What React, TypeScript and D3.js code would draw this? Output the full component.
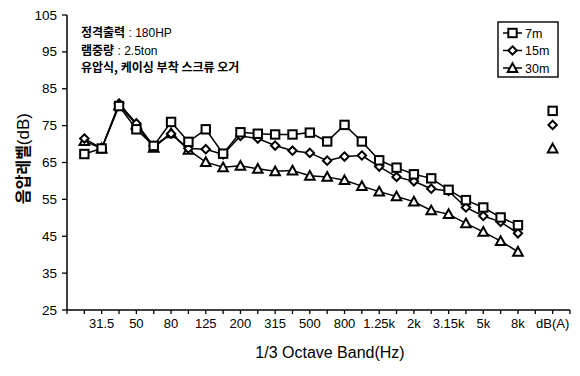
import React from "react";
import * as d3 from "d3";

// 1/3 octave band centre frequencies (25 Hz – 8 kHz), then overall dB(A)
const bands = [
  "25", "31.5", "40", "50", "63", "80", "100", "125", "160", "200", "250", "315", "400",
  "500", "630", "800", "1k", "1.25k", "1.6k", "2k", "2.5k", "3.15k", "4k", "5k", "6.3k", "8k",
];
const tickLabels = ["31.5", "50", "80", "125", "200", "315", "500", "800", "1.25k", "2k", "3.15k", "5k", "8k"];
const overallLabel = "dB(A)";
const yTicks = [25, 35, 45, 55, 65, 75, 85, 95, 105];

// Sound pressure level per band at each distance
const level7m = [67.3, 68.8, 80.3, 74.0, 69.5, 76.0, 70.6, 74.0, 67.4, 73.2, 72.8, 72.6, 72.6, 73.1, 70.7, 75.2, 70.7, 65.6, 63.6, 61.8, 60.7, 57.6, 54.8, 52.8, 50.1, 48.0];
const level15m = [71.5, 68.8, 81.0, 75.6, 69.5, 72.8, 68.8, 68.6, 67.2, 72.2, 71.5, 69.6, 68.2, 67.6, 65.5, 66.6, 66.9, 63.9, 61.1, 59.9, 57.9, 57.3, 52.8, 50.5, 48.9, 45.8];
const level30m = [70.8, 68.8, 80.5, 75.3, 69.0, 72.9, 68.4, 65.1, 63.7, 64.1, 63.3, 62.6, 62.8, 61.4, 61.1, 60.2, 58.6, 57.1, 55.8, 54.4, 52.0, 51.0, 48.5, 46.2, 43.7, 40.8];
const overall = [79.0, 75.2, 68.8]; // 7m, 15m, 30m

const seriesNames = ["7m", "15m", "30m"];
const seriesShapes = ["square", "diamond", "triangle"];

const W = 580;
const H = 376;
const FONT = "'Liberation Sans', Arial, 'Noto Sans CJK KR', sans-serif";
const KFONT = "'Noto Sans CJK KR', 'Liberation Sans', sans-serif";

const x = d3.scaleLinear().domain([0, 29]).range([67, 570]);
const y = d3.scaleLinear().domain([25, 105]).range([310, 15]);

function Marker({ shape, cx, cy }: { shape: string; cx: number; cy: number }) {
  const common = { fill: "#fff", stroke: "#000", strokeWidth: 2 };
  if (shape === "square") {
    return <rect x={cx - 4.2} y={cy - 4.2} width={8.4} height={8.4} {...common} />;
  }
  if (shape === "diamond") {
    return (
      <path
        d={`M${cx},${cy - 4.2}L${cx + 4.2},${cy}L${cx},${cy + 4.2}L${cx - 4.2},${cy}Z`}
        {...common}
      />
    );
  }
  return (
    <path
      d={`M${cx},${cy - 4.8}L${cx + 4.8},${cy + 3.9}L${cx - 4.8},${cy + 3.9}Z`}
      {...common}
    />
  );
}

export default function App() {
  const series = [level7m, level15m, level30m];
  const line = d3
    .line<number>()
    .x((_, i) => x(i + 1))
    .y((d) => y(d));

  const overallIdx = bands.length + 2;

  return (
    <svg
      width={W}
      height={H}
      style={{ position: "absolute", left: 0, top: 0, background: "#fff" }}
      fontFamily={FONT}
    >
      {/* axes */}
      <line x1={x(0)} x2={x(0)} y1={y(105)} y2={y(25)} stroke="#000" strokeWidth={1.5} />
      <line x1={x(0)} x2={x(29)} y1={y(25)} y2={y(25)} stroke="#000" strokeWidth={1.5} />
      {yTicks.map((t) => (
        <g key={t}>
          <line x1={x(0) - 5} x2={x(0)} y1={y(t)} y2={y(t)} stroke="#000" strokeWidth={1.3} />
          <text x={57} y={y(t) + 4.5} textAnchor="end" fontSize={13.5}>
            {t}
          </text>
        </g>
      ))}
      {d3.range(0, 30).map((i) => (
        <line key={i} x1={x(i)} x2={x(i)} y1={y(25)} y2={y(25) + 4} stroke="#000" strokeWidth={1.3} />
      ))}
      {tickLabels.map((lab) => (
        <text key={lab} x={x(bands.indexOf(lab) + 1)} y={328} textAnchor="middle" fontSize={13}>
          {lab}
        </text>
      ))}
      <text x={x(overallIdx)} y={328} textAnchor="middle" fontSize={13}>
        {overallLabel}
      </text>
      <text x={330} y={358} textAnchor="middle" fontSize={16}>
        1/3 Octave Band(Hz)
      </text>
      <text
        transform={`translate(29,${(y(25) + y(105)) / 2 - 4}) rotate(-90)`}
        textAnchor="middle"
        fontSize={16}
      >
        <tspan fontFamily={KFONT} fontWeight={700}>음압레벨</tspan>
        <tspan fontSize={17}>(dB)</tspan>
      </text>

      {/* machine description */}
      <g fontSize={12}>
        <text x={81} y={37}>
          <tspan fontFamily={KFONT} fontWeight={700}>정격출력</tspan>
          <tspan> : 180HP</tspan>
        </text>
        <text x={81} y={55}>
          <tspan fontFamily={KFONT} fontWeight={700}>램중량</tspan>
          <tspan> : 2.5ton</tspan>
        </text>
        <text x={81} y={72} fontFamily={KFONT} fontWeight={700}>
          유압식, 케이싱 부착 스크류 오거
        </text>
      </g>

      {/* series lines and markers, farthest first */}
      {[2, 1, 0].map((s) => (
        <g key={seriesNames[s]}>
          <path d={line(series[s]) || ""} fill="none" stroke="#000" strokeWidth={1.5} />
          {series[s].map((v, i) => (
            <Marker key={i} shape={seriesShapes[s]} cx={x(i + 1)} cy={y(v)} />
          ))}
          <Marker shape={seriesShapes[s]} cx={x(overallIdx)} cy={y(overall[s])} />
        </g>
      ))}

      {/* legend */}
      <rect x={498} y={22} width={60} height={55} fill="#fff" stroke="#000" strokeWidth={1.4} />
      {seriesNames.map((name, s) => {
        const ly = 33 + s * 17.5;
        return (
          <g key={name}>
            <line x1={503} x2={522} y1={ly} y2={ly} stroke="#000" strokeWidth={1.5} />
            <Marker shape={seriesShapes[s]} cx={512.5} cy={ly} />
            <text x={525} y={ly + 4.5} fontSize={12.5}>
              {name}
            </text>
          </g>
        );
      })}
    </svg>
  );
}
